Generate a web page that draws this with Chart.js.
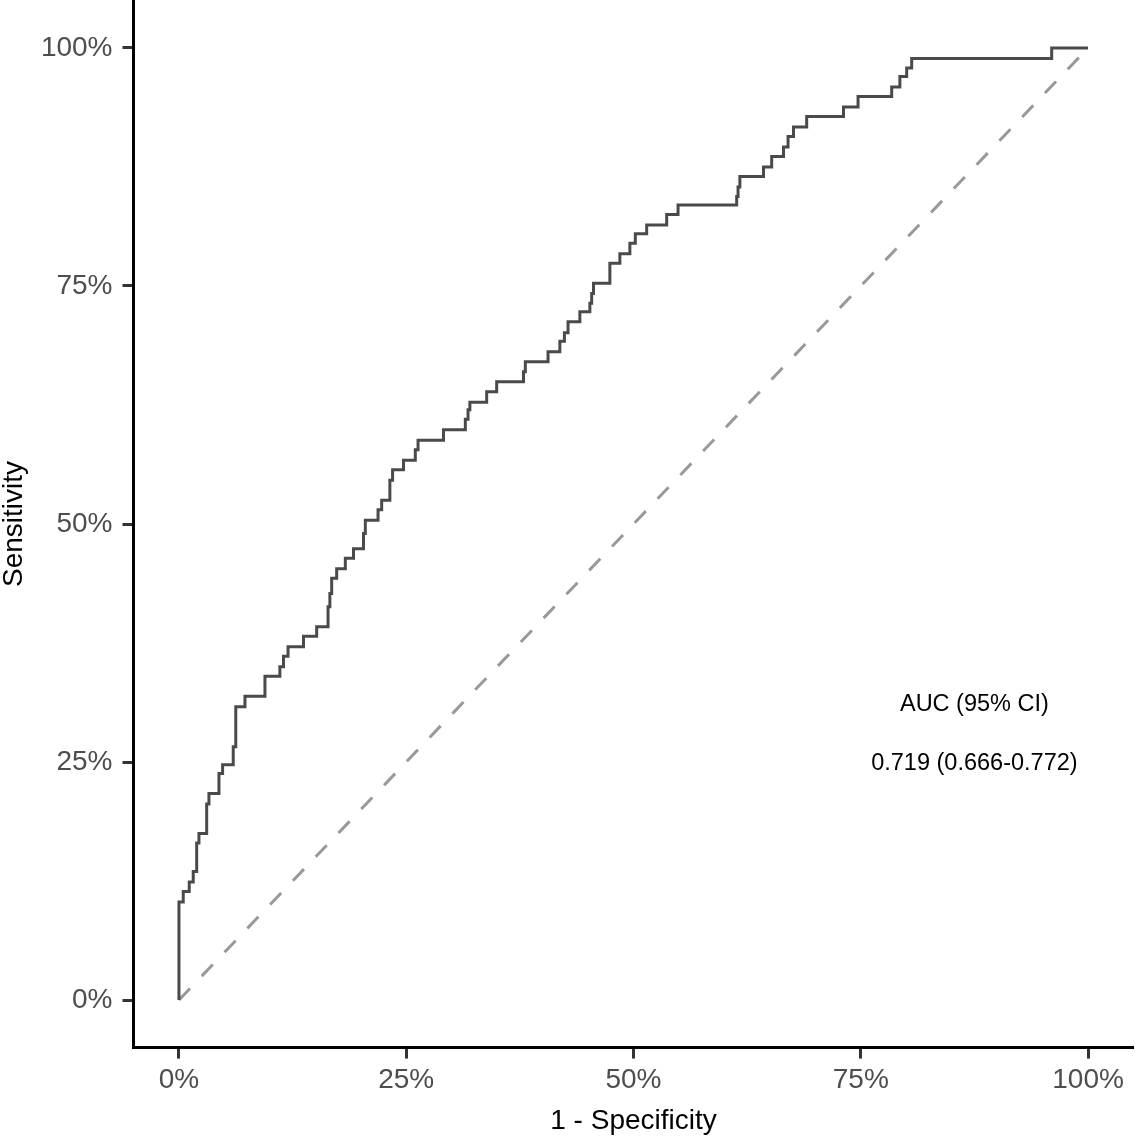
<!DOCTYPE html>
<html>
<head>
<meta charset="utf-8">
<script src="https://cdn.jsdelivr.net/npm/chart.js@4.4.1/dist/chart.umd.min.js"></script>
<style>
  html, body { margin: 0; padding: 0; background: #fff; }
  #wrap { width: 1135px; height: 1137px; }
</style>
</head>
<body>
<div id="wrap"><canvas id="roc" width="1135" height="1137"></canvas></div>
<script>
// ROC 曲線頂點 (1 - Specificity, Sensitivity)，單位 %
const rocFpr = [
  0, 0, 0.47, 0.47, 1.13, 1.13, 1.57, 1.57, 1.95, 1.95, 2.2, 2.2, 3.05, 3.05, 3.3, 3.3,
  4.4, 4.4, 4.8, 4.8, 5.97, 5.97, 6.25, 6.25, 7.26, 7.26, 9.46, 9.46, 11.1, 11.1, 11.5, 11.5,
  12.0, 12.0, 13.7, 13.7, 15.15, 15.15, 16.4, 16.4, 16.6, 16.6, 16.8, 16.8, 17.35, 17.35,
  18.3, 18.3, 19.2, 19.2, 20.3, 20.3, 20.5, 20.5, 21.9, 21.9, 22.3, 22.3, 23.2, 23.2, 23.5, 23.5,
  24.7, 24.7, 26.0, 26.0, 26.3, 26.3, 29.1, 29.1, 31.5, 31.5, 31.8, 31.8, 32.0, 32.0,
  33.85, 33.85, 34.95, 34.95, 37.9, 37.9, 38.1, 38.1, 40.6, 40.6, 41.9, 41.9, 42.4, 42.4, 42.8, 42.8,
  44.1, 44.1, 45.2, 45.2, 45.4, 45.4, 45.6, 45.6, 47.4, 47.4, 48.5, 48.5, 49.6, 49.6, 50.2, 50.2,
  51.45, 51.45, 53.65, 53.65, 54.9, 54.9, 61.35, 61.35, 61.5, 61.5, 61.7, 61.7, 64.3, 64.3,
  65.2, 65.2, 66.5, 66.5, 67.0, 67.0, 67.6, 67.6, 69.05, 69.05, 73.1, 73.1, 74.7, 74.7,
  78.4, 78.4, 79.3, 79.3, 80.05, 80.05, 80.6, 80.6, 96.0, 96.0, 100
];
const rocTpr = [
  0, 10.3, 10.3, 11.4, 11.4, 12.4, 12.4, 13.5, 13.5, 16.5, 16.5, 17.5, 17.5, 20.6, 20.6, 21.7,
  21.7, 23.8, 23.8, 24.7, 24.7, 26.6, 26.6, 30.8, 30.8, 31.9, 31.9, 34.0, 34.0, 35.0, 35.0, 36.1,
  36.1, 37.1, 37.1, 38.2, 38.2, 39.2, 39.2, 41.3, 41.3, 42.7, 42.7, 44.3, 44.3, 45.3,
  45.3, 46.4, 46.4, 47.4, 47.4, 49.0, 49.0, 50.4, 50.4, 51.5, 51.5, 52.5, 52.5, 54.6, 54.6, 55.7,
  55.7, 56.7, 56.7, 57.8, 57.8, 58.8, 58.8, 59.9, 59.9, 61.0, 61.0, 62.0, 62.0, 62.8,
  62.8, 63.9, 63.9, 64.95, 64.95, 66.0, 66.0, 67.05, 67.05, 68.1, 68.1, 69.2, 69.2, 70.1, 70.1, 71.25,
  71.25, 72.3, 72.3, 73.2, 73.2, 74.2, 74.2, 75.3, 75.3, 77.4, 77.4, 78.4, 78.4, 79.5, 79.5, 80.5,
  80.5, 81.4, 81.4, 82.5, 82.5, 83.5, 83.5, 84.4, 84.4, 85.4, 85.4, 86.5, 86.5, 87.5,
  87.5, 88.6, 88.6, 89.6, 89.6, 90.7, 90.7, 91.7, 91.7, 92.8, 92.8, 93.8, 93.8, 94.9,
  94.9, 95.9, 95.9, 97.0, 97.0, 97.9, 97.9, 98.9, 98.9, 100, 100
];

// 對角參考線
const refFpr = [0, 100];
const refTpr = [0, 100];

// 刻度
const xTicks = [0, 25, 50, 75, 100];
const yTicks = [0, 25, 50, 75, 100];

// AUC 標註
const aucLines = ['AUC (95% CI)', '0.719 (0.666-0.772)'];
const aucX = 87.5;
const aucY = [31.0, 24.8];

const FONT = '"Liberation Sans", Arial, sans-serif';

const toPts = (xs, ys) => xs.map((v, i) => ({ x: v, y: ys[i] }));

// 標註文字
const aucLabel = {
  id: 'aucLabel',
  afterDatasetsDraw(chart) {
    const { ctx, scales: { x, y } } = chart;
    ctx.save();
    ctx.font = '23.5px ' + FONT;
    ctx.fillStyle = '#000';
    ctx.textAlign = 'center';
    ctx.textBaseline = 'middle';
    aucLines.forEach((t, i) => ctx.fillText(t, x.getPixelForValue(aucX), y.getPixelForValue(aucY[i])));
    ctx.restore();
  }
};

const axisGrid = {
  display: true,
  drawOnChartArea: false,
  drawTicks: true,
  tickLength: 11,
  tickColor: '#333333',
  tickWidth: 3
};

new Chart(document.getElementById('roc'), {
  type: 'scatter',
  data: {
    datasets: [
      {
        data: toPts(rocFpr, rocTpr),
        showLine: true,
        borderColor: '#4a4a4a',
        borderWidth: 3,
        pointRadius: 0,
        tension: 0,
        fill: false
      },
      {
        data: toPts(refFpr, refTpr),
        showLine: true,
        borderColor: '#999999',
        borderWidth: 3,
        borderDash: [16, 17],
        pointRadius: 0,
        fill: false
      }
    ]
  },
  options: {
    responsive: false,
    animation: false,
    devicePixelRatio: 1,
    layout: { padding: { top: 0.4, right: 1.5, left: 0, bottom: 0 } },
    plugins: { legend: { display: false }, tooltip: { enabled: false } },
    scales: {
      x: {
        type: 'linear',
        min: -5,
        max: 105,
        afterBuildTicks: s => { s.ticks = xTicks.map(v => ({ value: v })); },
        afterFit: s => { s.height = 89.4; s.paddingLeft = 0; s.paddingRight = 0; },
        ticks: {
          callback: v => v + '%',
          color: '#4D4D4D',
          font: { family: FONT, size: 28 },
          padding: 5,
          maxRotation: 0,
          autoSkip: false
        },
        grid: axisGrid,
        border: { display: true, color: '#000', width: 3 },
        title: {
          display: true,
          text: '1 - Specificity',
          color: '#000',
          font: { family: FONT, size: 28, lineHeight: 1 },
          padding: { top: 0, bottom: 2 }
        }
      },
      y: {
        type: 'linear',
        min: -5,
        max: 105,
        afterBuildTicks: s => { s.ticks = yTicks.map(v => ({ value: v })); },
        afterFit: s => { s.width = 133.5; s.paddingTop = 0; s.paddingBottom = 0; },
        ticks: {
          callback: v => v + '%',
          color: '#4D4D4D',
          font: { family: FONT, size: 28 },
          padding: 10,
          autoSkip: false
        },
        grid: axisGrid,
        border: { display: true, color: '#000', width: 3 },
        title: {
          display: true,
          text: 'Sensitivity',
          color: '#000',
          font: { family: FONT, size: 28, lineHeight: 1 },
          padding: { top: 0, bottom: 0 }
        }
      }
    }
  },
  plugins: [aucLabel]
});
</script>
</body>
</html>
